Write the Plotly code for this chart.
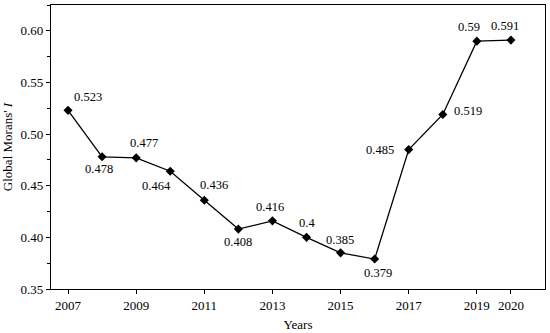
import plotly.graph_objects as go

years = [2007, 2008, 2009, 2010, 2011, 2012, 2013, 2014, 2015, 2016, 2017, 2018, 2019, 2020]
morans_i = [0.523, 0.478, 0.477, 0.464, 0.436, 0.408, 0.416, 0.4, 0.385, 0.379, 0.485, 0.519, 0.59, 0.591]
labels = ["0.523", "0.478", "0.477", "0.464", "0.436", "0.408", "0.416", "0.4", "0.385", "0.379", "0.485", "0.519", "0.59", "0.591"]
x_ticks = [2007, 2009, 2011, 2013, 2015, 2017, 2019, 2020]
y_ticks = [0.35, 0.40, 0.45, 0.50, 0.55, 0.60]

# label offsets (pixels) relative to each point
offsets = [(20, 13), (-3, -12), (8, 15), (-14, -15), (10, 15), (0, -13), (-2, 14),
           (0, 14), (-1, 13), (3, -14), (-29, 0), (25, 3), (-8, 14), (-6, 14)]

fig = go.Figure()
fig.add_trace(go.Scatter(
    x=years, y=morans_i, mode="lines+markers",
    line=dict(color="black", width=1.3),
    marker=dict(symbol="diamond", size=7, color="black"),
    showlegend=False, hoverinfo="x+y",
))

for x, y, t, (dx, dy) in zip(years, morans_i, labels, offsets):
    fig.add_annotation(x=x, y=y, text=t, showarrow=False, xshift=dx, yshift=dy,
                       font=dict(family="Liberation Serif", size=12.5, color="black"))

font = dict(family="Liberation Serif", size=13, color="black")
fig.update_layout(
    width=550, height=333,
    margin=dict(l=51, r=5, t=5, b=44),
    paper_bgcolor="white", plot_bgcolor="white",
    font=font,
    xaxis=dict(
        range=[2006.5, 2021], tickmode="array", tickvals=x_ticks,
        ticktext=[str(v) for v in x_ticks], automargin=False,
        showgrid=False, zeroline=False, showline=True, linecolor="black", linewidth=1.3,
        mirror=True, ticks="outside", ticklen=4, tickcolor="black",
        title=dict(text="Years", font=font, standoff=8),
    ),
    yaxis=dict(
        range=[0.35, 0.625], tickmode="array", tickvals=y_ticks,
        ticktext=[f"{v:.2f}" for v in y_ticks], automargin=False,
        showgrid=False, zeroline=False, showline=True, linecolor="black", linewidth=1.3,
        mirror=True, ticks="outside", ticklen=4, tickcolor="black",
        minor=dict(dtick=0.025, tick0=0.35, ticks="outside", ticklen=3, tickcolor="black", showgrid=False),
        title=dict(text="Global Morans' <i>I</i>", font=font, standoff=6),
    ),
)

fig.write_html("out.html", config={"displayModeBar": False},
               post_script="document.body.style.margin='0';")
